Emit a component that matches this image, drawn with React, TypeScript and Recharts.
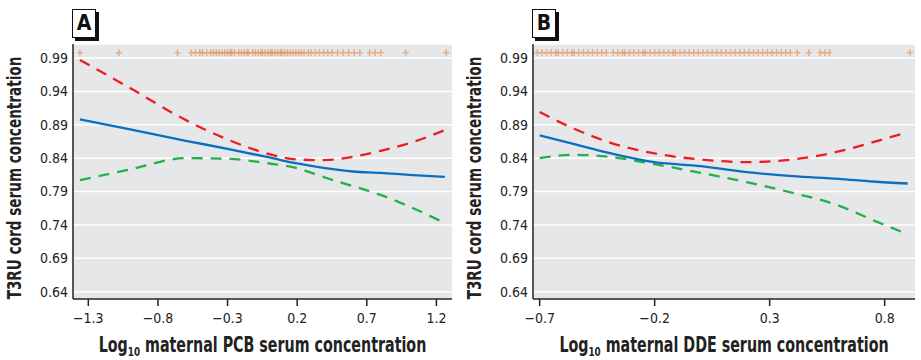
import React from 'react';
import { ComposedChart, Line, Scatter, XAxis, YAxis, CartesianGrid, Label } from 'recharts';

const FONT = '"Liberation Sans Narrow", "DejaVu Sans Condensed", "Arial Narrow", sans-serif';

const yTicks = [0.64, 0.69, 0.74, 0.79, 0.84, 0.89, 0.94, 0.99];
const pcbTicks = [-1.3, -0.8, -0.3, 0.2, 0.7, 1.2];
const ddeTicks = [-0.7, -0.2, 0.3, 0.8];

// panel A - PCB
const pcbX = [-1.36, -1.0, -0.6, -0.3, 0.0, 0.2, 0.4, 0.6, 0.8, 1.0, 1.26];
const pcbFit = [0.898, 0.883, 0.866, 0.854, 0.841, 0.832, 0.825, 0.82, 0.818, 0.815, 0.812];
const pcbUpper = [0.987, 0.945, 0.897, 0.868, 0.846, 0.838, 0.837, 0.842, 0.851, 0.862, 0.882];
const pcbLower = [0.807, 0.823, 0.84, 0.839, 0.832, 0.825, 0.811, 0.798, 0.785, 0.768, 0.743];
const pcbRug = [
  -1.36, -1.08, -0.66, -0.56, -0.53, -0.5, -0.48, -0.45, -0.42, -0.4, -0.38, -0.36, -0.34,
  -0.32, -0.3, -0.28, -0.27, -0.25, -0.22, -0.2, -0.18, -0.16, -0.15, -0.12, -0.1, -0.08,
  -0.06, -0.05, -0.03, -0.01, 0.01, 0.02, 0.04, 0.06, 0.08, 0.09, 0.11, 0.13, 0.15, 0.17,
  0.19, 0.21, 0.23, 0.25, 0.28, 0.3, 0.33, 0.36, 0.39, 0.42, 0.45, 0.49, 0.53, 0.57, 0.61,
  0.65, 0.72, 0.76, 0.8, 0.98, 1.27,
];

// panel B - DDE
const ddeX = [-0.7, -0.55, -0.4, -0.2, 0.0, 0.2, 0.4, 0.6, 0.75, 0.9];
const ddeFit = [0.874, 0.861, 0.848, 0.834, 0.828, 0.819, 0.813, 0.809, 0.805, 0.802];
const ddeUpper = [0.909, 0.884, 0.864, 0.847, 0.838, 0.834, 0.838, 0.85, 0.864, 0.879];
const ddeLower = [0.84, 0.845, 0.842, 0.831, 0.818, 0.804, 0.788, 0.769, 0.747, 0.726];
const ddeRug = [
  -0.71, -0.69, -0.67, -0.65, -0.63, -0.62, -0.6, -0.58, -0.56, -0.55, -0.53, -0.51, -0.49,
  -0.47, -0.45, -0.43, -0.41, -0.38, -0.36, -0.34, -0.33, -0.31, -0.29, -0.27, -0.25, -0.24,
  -0.22, -0.2, -0.18, -0.16, -0.14, -0.12, -0.11, -0.09, -0.07, -0.05, -0.03, -0.01, 0.01,
  0.03, 0.05, 0.07, 0.09, 0.11, 0.13, 0.15, 0.17, 0.19, 0.21, 0.23, 0.25, 0.27, 0.29, 0.31,
  0.33, 0.35, 0.37, 0.39, 0.42, 0.47, 0.52, 0.54, 0.56, 0.91,
];

const RUG_Y = 0.998;

const fmtX = (v: number) => (v < 0 ? '\u2212' + Math.abs(v).toFixed(1) : v.toFixed(1));

const RugMark = (props: any) => {
  const { cx, cy } = props;
  if (cx == null || cy == null) return null;
  return (
    <g stroke="#e38a4c" strokeWidth={1.5} opacity={0.6}>
      <line x1={cx - 3} x2={cx + 3} y1={cy} y2={cy} />
      <line x1={cx} x2={cx} y1={cy - 3.5} y2={cy + 3.5} />
    </g>
  );
};

interface PanelProps {
  letter: string;
  compound: string;
  left: number;
  width: number;
  rightMargin: number;
  domain: [number, number];
  ticks: number[];
  xs: number[];
  fit: number[];
  upper: number[];
  lower: number[];
  rug: number[];
}

const Panel: React.FC<PanelProps> = ({ letter, compound, left, width, rightMargin, domain, ticks, xs, fit, upper, lower, rug }) => {
  const lineData = xs.map((x, i) => ({ x, fit: fit[i], upper: upper[i], lower: lower[i] }));
  const rugData = rug.map((x) => ({ x, y: RUG_Y }));
  const plotLeft = 73;
  const plotRight = width - rightMargin;
  const cx = (plotLeft + plotRight) / 2;

  return (
    <div style={{ position: 'absolute', left, top: 0, width, height: 360 }}>
      <ComposedChart width={width} height={360} margin={{ top: 44, right: rightMargin, bottom: 31, left: 30 }}>
        <CartesianGrid fill="#e6e7e8" stroke="#ffffff" strokeWidth={1.5} vertical={false} />
        <XAxis
          type="number"
          dataKey="x"
          domain={domain}
          ticks={ticks}
          tickFormatter={fmtX}
          allowDataOverflow
          height={30}
          tickSize={7}
          tickMargin={7}
          axisLine={{ stroke: '#222', strokeWidth: 1.5 }}
          tickLine={{ stroke: '#222', strokeWidth: 1.5 }}
          tick={{ fill: '#222', fontSize: 14, fontFamily: FONT }}
        >
          <Label
            content={() => (
              <g transform={`translate(${cx} 352) scale(0.755 1)`}>
                <text x={0} y={0} textAnchor="middle" fill="#222" fontFamily={FONT} fontWeight="bold" fontSize={21}>
                  Log<tspan fontSize={13} dy={3.5}>10</tspan>
                  <tspan dy={-3.5}>{` maternal ${compound} serum concentration`}</tspan>
                </text>
              </g>
            )}
          />
        </XAxis>
        <YAxis
          type="number"
          domain={[0.629, 1.011]}
          ticks={yTicks}
          allowDataOverflow
          width={43}
          tickSize={0}
          tickMargin={5}
          tickFormatter={(v: number) => v.toFixed(2)}
          axisLine={{ stroke: '#222', strokeWidth: 1.5 }}
          tickLine={false}
          tick={{ fill: '#222', fontSize: 14, fontFamily: FONT }}
        >
          <Label
            content={() => (
              <g transform="translate(14 178) rotate(-90) scale(0.756 1)">
                <text
                  x={0}
                  y={0}
                  textAnchor="middle"
                  dominantBaseline="central"
                  fill="#222"
                  fontFamily={FONT}
                  fontWeight="bold"
                  fontSize={20}
                >
                  T3RU cord serum concentration
                </text>
              </g>
            )}
          />
        </YAxis>
        <Scatter data={rugData} dataKey="y" shape={RugMark} isAnimationActive={false} />
        <Line data={lineData} dataKey="upper" type="monotone" stroke="#ed1c24" strokeWidth={2.3} strokeDasharray="11 8" dot={false} isAnimationActive={false} />
        <Line data={lineData} dataKey="lower" type="monotone" stroke="#22b04b" strokeWidth={2.3} strokeDasharray="11 8" dot={false} isAnimationActive={false} />
        <Line data={lineData} dataKey="fit" type="monotone" stroke="#0b6fbf" strokeWidth={2.3} dot={false} isAnimationActive={false} />
      </ComposedChart>
      <div
        style={{
          position: 'absolute',
          left: 72,
          top: 9,
          width: 22,
          height: 27,
          background: '#fff',
          border: '1px solid #111',
          boxShadow: '3px 3px 0 #111',
          fontFamily: FONT,
          fontWeight: 'bold',
          fontSize: 21,
          lineHeight: '27px',
          textAlign: 'center',
          color: '#111',
        }}
      >
        {letter}
      </div>
    </div>
  );
};

export default function App() {
  return (
    <div style={{ position: 'absolute', left: 0, top: 0, width: 921, height: 360, background: '#fff' }}>
      <Panel
        letter="A"
        compound="PCB"
        left={0}
        width={460}
        rightMargin={8}
        domain={[-1.41, 1.312]}
        ticks={pcbTicks}
        xs={pcbX}
        fit={pcbFit}
        upper={pcbUpper}
        lower={pcbLower}
        rug={pcbRug}
      />
      <Panel
        letter="B"
        compound="DDE"
        left={460}
        width={461}
        rightMargin={6}
        domain={[-0.729, 0.932]}
        ticks={ddeTicks}
        xs={ddeX}
        fit={ddeFit}
        upper={ddeUpper}
        lower={ddeLower}
        rug={ddeRug}
      />
    </div>
  );
}
